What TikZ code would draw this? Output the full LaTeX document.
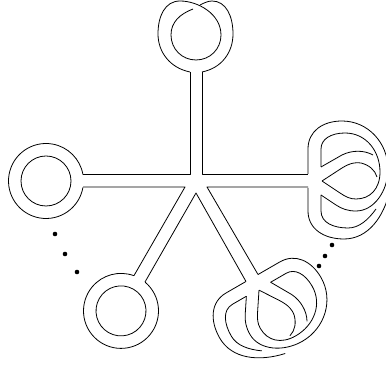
\documentclass[tikz,border=0pt]{standalone}
\usepackage{tikz}

\tikzset{
  wire/.style={line width=0.4pt, line join=round},
  dotmark/.style={fill=black},
}

\newcommand{\claspknot}{%
\draw[wire] (112,-7) -- (112,-32) .. controls (112,-50) and (127,-60) .. (146,-60) .. controls (172,-60) and (192,-38) .. (192,-12) .. controls (192,10) and (178,30) .. (160,30) .. controls (152,30) and (146,28) .. (140,24) -- (125,14);
\draw[wire] (125,-14) -- (146,-26) .. controls (156,-31) and (168,-31) .. (177,-26);
\draw[wire] (125,-14) -- (125,-32) .. controls (125,-42) and (135,-48) .. (149,-48) .. controls (170,-48) and (184,-30) .. (184,-9) .. controls (184,8) and (174,18) .. (160,18) .. controls (154,18) and (150,16) .. (144,12) -- (126,0);
\draw[wire] (126,0) -- (146,-13) .. controls (154,-18) and (160,-19) .. (165,-18) .. controls (173,-16) and (179,-11) .. (181,-4);
\draw[wire] (125,14) -- (125,30) .. controls (125,42) and (138,47) .. (152,47) .. controls (163,47) and (172,39) .. (180,28);
\draw[wire] (112,7) -- (112,30) .. controls (112,48) and (128,58) .. (148,58) .. controls (172,58) and (188,36) .. (194,9);
}

\begin{document}
\begin{tikzpicture}[x=0.5pt,y=-0.5pt]
\useasboundingbox (0,0) rectangle (386,367);
\clip (0,0) rectangle (386,367);

\draw[wire] (83,174) -- (190,174) -- (190,72);
\draw[wire] (202,72) -- (202,174) -- (308,174);
\draw[wire] (308,187) -- (207,187) -- (258,274.5);
\draw[wire] (246,281.5) -- (196,193) -- (145,282);
\draw[wire] (134,275.6) -- (185,187) -- (83,187);

\foreach \ang in {180,120} {
  \begin{scope}[shift={(196,181)},rotate=-\ang]
    \draw[wire] (150,0) ++(190:37.5) arc (190:530:37.5);
    \draw[wire] (150,0) circle (25);
  \end{scope}
}

\draw[wire] (190,72) .. controls (170,68) and (158,52) .. (158,34) .. controls (158,16) and (165,1) .. (180,1) .. controls (198,1) and (221,14) .. (221,35) .. controls (221,49) and (210,60) .. (196,60) .. controls (182,60) and (171,49) .. (171,35) .. controls (171,22) and (180,14) .. (193,9);
\draw[wire] (202,72) .. controls (222,68) and (233,52) .. (233,34) .. controls (233,16) and (226,1) .. (212,1) .. controls (208,1) and (204,3) .. (200,5);

\foreach \ang in {0,60} {
  \begin{scope}[shift={(196,181)},rotate=-\ang]
    \claspknot
  \end{scope}
}

\fill[dotmark] (55,234) circle (2.3);
\fill[dotmark] (65,254) circle (2.3);
\fill[dotmark] (77,272) circle (2.3);
\fill[dotmark] (332,245) circle (2.3);
\fill[dotmark] (325,256) circle (2.3);
\fill[dotmark] (319,266) circle (2.3);
\end{tikzpicture}
\end{document}
